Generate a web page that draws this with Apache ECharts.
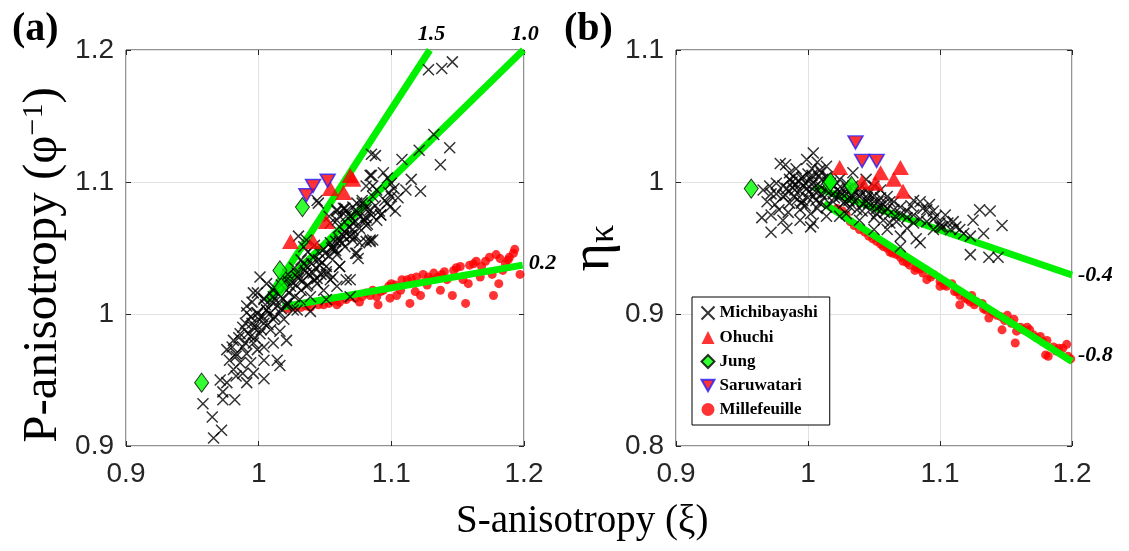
<!DOCTYPE html>
<html>
<head>
<meta charset="utf-8">
<script src="https://cdn.jsdelivr.net/npm/echarts@6/dist/echarts.min.js"></script>
<style>
html,body{margin:0;padding:0;background:#fff;}
#chart{width:1129px;height:551px;}
</style>
</head>
<body>
<div id="chart"></div>
<script>
// Axis ranges (tick step 0.1)
const xRange = [0.9, 1.2];
const pRange = [0.9, 1.2];      // panel (a): P-anisotropy
const etaRange = [0.8, 1.1];    // panel (b): eta_kappa
const tickStep = 0.1;

// Panel (a): S-anisotropy vs P-anisotropy
const michiA = [
  [1.128,1.185],[1.138,1.186],[1.146,1.191],[1.132,1.136],[1.121,1.124],[1.144,1.126],[1.137,1.113],
  [1.088,1.120],[1.108,1.117],[1.085,1.105],[1.094,1.107],[1.097,1.103],[1.115,1.102],[1.111,1.094],
  [1.122,1.093],[1.100,1.099],[1.081,1.097],[1.089,1.094],[1.086,1.089],[1.078,1.084],[1.100,1.089],
  [1.099,1.081],[1.103,1.078],[1.092,1.075],[1.081,1.073],[1.084,1.079],[1.071,1.081],[1.069,1.074],
  [1.074,1.078],[1.065,1.080],[1.061,1.074],[1.059,1.071],[1.071,1.064],[1.081,1.055],[1.086,1.056],
  [1.073,1.059],[1.064,1.059],[1.058,1.055],[1.056,1.051],[1.065,1.051],
  [1.045,1.084],[1.059,1.078],[1.066,1.074],[1.074,1.076],[1.081,1.079],[1.092,1.075],[1.097,1.084],
  [1.054,1.069],[1.061,1.066],[1.071,1.069],[1.081,1.067],[1.089,1.071],[1.030,1.059],[1.034,1.051],
  [1.049,1.049],[1.054,1.054],[1.061,1.055],[1.069,1.059],[1.076,1.054],[1.084,1.055],[1.073,1.046],
  [1.075,1.042],[1.059,1.045],[1.041,1.043],[1.046,1.037],[1.036,1.036],[1.029,1.031],[1.051,1.032],
  [1.061,1.036],[1.054,1.026],[1.066,1.026],[1.069,1.013],[1.044,1.023],[1.036,1.021],[1.024,1.021],
  [1.001,1.028],[0.996,1.016],[1.004,1.011],[1.011,1.013],[0.991,1.006],[0.999,1.001],[1.006,1.003],
  [1.021,1.006],[1.031,1.011],[1.039,1.013],[1.049,1.018],[1.059,1.021],[1.051,1.011],[1.016,1.001],
  [1.026,1.003],[0.994,0.998],
  [1.006,1.023],[0.999,1.016],[0.995,1.009],[1.004,1.012],[1.011,1.018],[1.021,1.026],[1.029,1.028],
  [1.036,1.031],[1.044,1.027],[1.051,1.030],[1.056,1.028],[0.991,1.001],[0.999,1.000],[1.006,1.003],
  [1.014,1.006],[1.021,1.008],[1.029,1.003],[1.039,1.002],[0.990,0.993],[0.996,0.990],[1.004,0.993],
  [1.011,0.996],[1.019,0.996],[0.986,0.985],[0.994,0.983],[1.001,0.985],[1.009,0.988],[1.016,0.987],
  [1.021,0.980],[0.981,0.980],[0.988,0.975],[0.996,0.978],[1.004,0.975],[1.011,0.978],[0.976,0.973],
  [0.983,0.970],[0.991,0.970],[0.999,0.973],[1.014,0.965],[1.016,0.961],[1.004,0.965],[0.978,0.965],
  [0.986,0.963],[0.994,0.963],[0.981,0.958],[0.988,0.955],[0.996,0.955],[1.004,0.951],[0.971,0.950],
  [0.976,0.948],[0.983,0.953],[0.991,0.948],[0.973,0.941],[0.982,0.935],[0.973,0.935],[0.958,0.932],
  [0.965,0.922],[0.972,0.912],[0.966,0.906],
  [1.044,1.086],[1.053,1.074],[1.059,1.079],[1.064,1.080],[1.066,1.078],[1.069,1.074],[1.074,1.084],
  [1.078,1.086],[1.081,1.081],[1.085,1.121],[1.084,1.105],[1.086,1.097],[1.080,1.071],[1.084,1.056],
  [1.074,1.046],[1.069,1.026],[1.056,1.049],[1.046,1.046],[1.041,1.031],[1.036,1.056],[1.034,1.038],
  [1.051,1.036],[1.061,1.036],[1.071,1.056],[1.064,1.059],
  [0.985,0.982],[0.988,0.990],[0.992,0.985],[0.995,0.993],[0.998,0.990],[1.000,0.996],[1.003,0.998],
  [1.005,1.007],[1.008,1.000],[1.010,1.009],[1.013,1.010],[1.015,1.015],[1.018,1.012],[1.020,1.019],
  [1.023,1.016],[1.025,1.024],[1.028,1.022],[1.030,1.027],[1.033,1.025],[1.035,1.033],[1.038,1.030],
  [1.040,1.038],[1.043,1.035],[1.045,1.041],[1.048,1.039],[1.050,1.046],[1.053,1.044],[1.055,1.050],
  [1.058,1.048],[1.060,1.058],[1.063,1.054],[1.065,1.062],[1.068,1.066],[1.070,1.060],[1.073,1.070],
  [1.076,1.065],[1.079,1.072],[1.082,1.068],[1.085,1.075],[1.088,1.082],[1.091,1.078],[1.095,1.086],
  [1.098,1.092],[1.102,1.095],[1.105,1.088],[0.980,0.975],[0.983,0.968],[0.990,0.978],[0.997,0.982],
  [1.002,0.988],[1.007,0.992],[1.012,0.998],[1.017,1.004],[1.022,1.008],[1.027,1.013],[1.032,1.018],
  [1.037,1.022],[1.042,1.026],[1.047,1.030],[1.017,1.022],[1.012,1.020],[1.022,1.030],[1.027,1.035],
  [1.032,1.041],[1.037,1.047],[1.042,1.052]
];
const ohuchiA = [[1.024,1.055],[1.041,1.055],[1.051,1.070],[1.054,1.095],[1.064,1.092],[1.069,1.105],[1.071,1.102]];
const jungA = [[0.957,0.948],[1.016,1.033],[1.017,1.020],[1.033,1.081]];
const saruA = [[1.036,1.090],[1.041,1.097],[1.052,1.101]];
const milleA = [
  [1.022,1.004],[1.028,1.005],[1.032,1.005],[1.036,1.006],[1.039,1.005],[1.045,1.007],[1.049,1.007],
  [1.053,1.008],[1.056,1.010],[1.059,1.007],[1.061,1.009],[1.066,1.011],[1.069,1.013],[1.073,1.012],
  [1.076,1.009],[1.078,1.013],[1.081,1.016],[1.084,1.014],[1.086,1.018],[1.089,1.013],[1.090,1.007],
  [1.092,1.017],[1.094,1.018],[1.098,1.021],[1.099,1.012],[1.100,1.023],[1.103,1.022],[1.104,1.014],
  [1.107,1.018],[1.108,1.026],[1.112,1.026],[1.114,1.008],[1.115,1.027],[1.118,1.017],[1.119,1.028],
  [1.122,1.014],[1.124,1.030],[1.127,1.022],[1.128,1.028],[1.130,1.026],[1.132,1.031],[1.135,1.028],
  [1.137,1.018],[1.138,1.030],[1.140,1.032],[1.142,1.026],[1.146,1.014],[1.147,1.033],[1.149,1.035],
  [1.152,1.036],[1.154,1.026],[1.156,1.008],[1.158,1.023],[1.159,1.037],[1.162,1.038],[1.164,1.040],
  [1.167,1.028],[1.168,1.036],[1.171,1.040],[1.174,1.043],[1.176,1.030],[1.177,1.014],[1.179,1.045],
  [1.181,1.023],[1.182,1.042],[1.184,1.033],[1.186,1.038],[1.188,1.041],[1.189,1.043],[1.192,1.046],
  [1.193,1.049],[1.197,1.030]
];
const line15 = [[1.006,1.010],[1.129,1.200]];
const line10 = [[1.006,1.010],[1.1995,1.200]];
const line02 = [[1.018,1.0055],[1.199,1.037]];

// Panel (b): S-anisotropy vs eta_kappa
const michiB = [
  [0.966,0.994],[0.972,0.991],[0.969,0.985],[0.965,0.973],[0.972,0.975],[0.972,0.962],[0.981,0.971],
  [0.984,0.965],[0.978,0.979],[0.975,0.983],
  [0.979,1.014],[0.983,1.013],[0.986,1.007],[0.991,1.010],[0.999,1.017],[1.004,1.022],[1.007,1.015],
  [1.003,1.010],[0.996,1.004],[1.002,1.002],[1.009,1.009],[1.014,1.012],
  [0.976,0.999],[0.981,0.997],[0.986,1.002],[0.991,0.998],[0.994,0.993],[0.999,0.995],[1.004,0.999],
  [1.009,0.997],[1.014,0.993],[0.989,0.989],[0.996,0.986],[1.004,0.989],[1.009,0.984],[0.981,0.989],
  [0.986,0.984],[0.994,0.979],[1.002,0.976],[1.007,0.980],[1.014,0.981],[1.019,0.985],[1.024,0.989],
  [1.029,0.991],[1.034,0.988],[1.039,0.989],[1.044,0.986],[1.050,0.990],[1.055,0.988],[1.060,0.989],
  [1.017,0.999],[1.022,0.994],[1.027,0.984],[1.032,0.981],[1.037,0.979],[1.042,0.983],[1.047,0.979],
  [1.052,0.980],[1.057,0.983],[1.062,0.985],[1.024,1.002],[1.029,0.999],[1.034,0.997],[1.039,0.995],
  [1.044,0.994],[1.050,0.997],[1.055,0.994],[1.034,1.007],[1.044,1.002],[1.004,0.969],[0.994,0.971],
  [1.024,0.974],[1.029,0.976],[1.039,0.971],[1.050,0.973],[1.057,0.971],[1.062,0.969],[1.002,0.966],
  [1.014,0.974],[0.976,0.991],[0.971,0.997],
  [0.984,0.995],[0.989,1.004],[0.993,1.001],[0.998,0.999],[1.001,0.993],[1.006,0.992],[1.011,1.002],
  [0.988,0.996],[0.996,0.997],[1.003,1.005],[1.008,1.004],[1.012,0.988],[1.019,0.991],[1.026,0.995],
  [1.031,0.986],[1.036,0.992],[1.041,0.978],[1.046,0.991],[1.053,0.985],[1.058,0.977],[0.998,0.982],
  [1.006,0.986],[0.992,0.987],[0.985,0.977],
  [1.065,0.979],[1.070,0.981],[1.075,0.978],[1.080,0.986],[1.085,0.985],[1.087,0.980],[1.092,0.983],
  [1.095,0.978],[1.097,0.974],[1.100,0.969],[1.102,0.966],[1.106,0.969],[1.110,0.970],[1.115,0.964],
  [1.123,0.959],[1.125,0.971],[1.130,0.979],[1.138,0.978],[1.147,0.967],[1.133,0.961],[1.123,0.945],
  [1.137,0.943],[1.144,0.943],[1.108,0.964],[1.095,0.964],[1.082,0.957],[1.085,0.954],[1.070,0.951],
  [1.075,0.965],[1.067,0.970],[1.080,0.969],[1.060,0.964],[1.050,0.964],[1.070,0.959],
  [0.990,0.994],[0.995,1.003],[1.000,1.006],[1.005,0.996],[1.010,0.991],[1.015,1.000],[1.020,0.997],
  [1.025,0.992],[1.030,0.995],[1.035,0.985],[1.040,0.992],[1.045,0.988],[1.050,0.985],[1.055,0.982],
  [1.060,0.980],[1.065,0.985],[1.070,0.976],[1.075,0.973],[1.080,0.975],[1.085,0.972],[1.090,0.970],
  [1.095,0.972],[1.100,0.966],[1.000,0.988],[0.995,0.984],[1.010,1.007],[1.015,1.004],[0.988,1.000],
  [0.983,0.990],[1.020,0.988],[1.028,0.985],[1.033,0.990],[1.046,0.984],[1.052,0.976],[1.066,0.974],
  [1.078,0.982],[1.090,0.979],[1.104,0.975],[1.112,0.966],[1.118,0.961]
];
const ohuchiB = [[1.024,1.011],[1.041,1.000],[1.051,0.999],[1.055,1.007],[1.065,1.002],[1.070,1.011],[1.072,0.993]];
const jungB = [[0.957,0.995],[1.016,0.999],[1.017,1.000],[1.033,0.997]];
const saruB = [[1.036,1.030],[1.041,1.016],[1.052,1.016]];
const milleB = [
  [1.022,0.980],[1.026,0.978],[1.029,0.975],[1.032,0.970],[1.035,0.967],[1.039,0.964],[1.046,0.959],
  [1.052,0.955],[1.057,0.951],[1.062,0.947],[1.067,0.945],[1.070,0.943],[1.072,0.940],[1.077,0.937],
  [1.081,0.933],[1.082,0.935],[1.087,0.931],[1.090,0.926],[1.095,0.930],[1.100,0.925],[1.100,0.921],
  [1.105,0.921],[1.109,0.923],[1.113,0.917],[1.115,0.914],[1.115,0.907],[1.119,0.912],[1.123,0.909],
  [1.124,0.914],[1.128,0.909],[1.132,0.908],[1.135,0.903],[1.137,0.897],[1.140,0.901],[1.146,0.898],
  [1.147,0.888],[1.151,0.899],[1.156,0.896],[1.157,0.878],[1.158,0.887],[1.161,0.890],[1.166,0.890],
  [1.168,0.888],[1.171,0.884],[1.176,0.883],[1.180,0.869],[1.181,0.880],[1.182,0.868],[1.186,0.875],
  [1.190,0.874],[1.193,0.874],[1.196,0.877],[1.197,0.868],
  [1.043,0.962],[1.049,0.957],[1.055,0.953],[1.060,0.950],[1.064,0.946],[1.075,0.939],[1.085,0.934],
  [1.093,0.928],[1.103,0.922],[1.111,0.917],[1.121,0.911],[1.126,0.907],[1.133,0.904],[1.143,0.899],
  [1.149,0.895],[1.154,0.893],[1.163,0.888],[1.173,0.882],[1.178,0.879],[1.188,0.872],[1.199,0.866]
];
const lineM04 = [[1.005,0.996],[1.2,0.9295]];
const lineM08 = [[1.012,0.9836],[1.2,0.864]];

const seriesNames = ['Michibayashi', 'Ohuchi', 'Jung', 'Saruwatari', 'Millefeuille'];
const lineTags = ['1.5', '1.0', '0.2', '-0.4', '-0.8'];

const GREEN = '#00f000';
const tickFont = "'Liberation Sans Narrow','Liberation Sans',sans-serif";
const serif = "'Liberation Serif','Times New Roman',serif";

const crossPath = 'path://M0,0L10,10M10,0L0,10';
const downTriPath = 'path://M0,0L10,0L5,8.7Z';

function fmt(v) { return String(+v.toFixed(2)); }

function mainX(gi) {
  return {
    type: 'value', gridIndex: gi, min: xRange[0], max: xRange[1], interval: tickStep,
    axisLine: { show: false },
    axisTick: { show: true, inside: true, length: 5, lineStyle: { color: '#262626' } },
    axisLabel: { fontFamily: tickFont, fontSize: 28, color: '#262626', margin: 14, formatter: fmt },
    splitLine: { show: true, lineStyle: { color: '#e2e2e2', width: 1 } }
  };
}
function topX(gi) {
  return {
    type: 'value', gridIndex: gi, position: 'top', min: xRange[0], max: xRange[1], interval: tickStep,
    axisLine: { show: false },
    axisTick: { show: true, inside: true, length: 5, lineStyle: { color: '#262626' } },
    axisLabel: { show: false }, splitLine: { show: false }
  };
}
function mainY(gi, range, name, size, rich, gap, pad) {
  return {
    type: 'value', gridIndex: gi, min: range[0], max: range[1], interval: tickStep,
    axisLine: { show: false },
    axisTick: { show: true, inside: true, length: 5, lineStyle: { color: '#262626' } },
    axisLabel: { fontFamily: tickFont, fontSize: 28, color: '#262626', margin: 12, formatter: fmt },
    splitLine: { show: true, lineStyle: { color: '#e2e2e2', width: 1 } },
    name: name, nameLocation: 'middle', nameRotate: 90, nameGap: gap,
    nameTextStyle: { fontFamily: serif, fontSize: size, color: '#000', rich: rich, padding: pad }
  };
}
function rightY(gi, range) {
  return {
    type: 'value', gridIndex: gi, position: 'right', min: range[0], max: range[1], interval: tickStep,
    axisLine: { show: false },
    axisTick: { show: true, inside: true, length: 5, lineStyle: { color: '#262626' } },
    axisLabel: { show: false }, splitLine: { show: false }
  };
}

function crosses(data, ax) {
  return {
    name: seriesNames[0], type: 'scatter', data: data, xAxisIndex: ax, yAxisIndex: ax, z: 4,
    symbol: crossPath, symbolSize: 11,
    itemStyle: { color: 'none', borderColor: '#000', borderWidth: 1.5 }
  };
}
function ohuchi(data, ax) {
  return {
    name: seriesNames[1], type: 'scatter', data: data, xAxisIndex: ax, yAxisIndex: ax, z: 5,
    symbol: 'triangle', symbolSize: [17, 15], itemStyle: { color: '#ff0000' }
  };
}
function jung(data, ax) {
  return {
    name: seriesNames[2], type: 'scatter', data: data, xAxisIndex: ax, yAxisIndex: ax, z: 6,
    symbol: 'diamond', symbolSize: [14, 19],
    itemStyle: { color: '#00ff00', borderColor: '#000', borderWidth: 1 }
  };
}
function saru(data, ax) {
  return {
    name: seriesNames[3], type: 'scatter', data: data, xAxisIndex: ax, yAxisIndex: ax, z: 7,
    symbol: downTriPath, symbolSize: [15, 13],
    itemStyle: { color: '#ff0000', borderColor: '#2020ff', borderWidth: 1.5 }
  };
}
function mille(data, ax) {
  return {
    name: seriesNames[4], type: 'scatter', data: data, xAxisIndex: ax, yAxisIndex: ax, z: 2,
    symbol: 'circle', symbolSize: 9, itemStyle: { color: '#ff0000' }
  };
}
function fitLine(data, ax, tag, offset) {
  return {
    type: 'line', data: data, xAxisIndex: ax, yAxisIndex: ax, z: 3,
    showSymbol: false, symbol: 'none', silent: true,
    lineStyle: { color: GREEN, width: 7, cap: 'butt' },
    endLabel: {
      show: true, formatter: tag, offset: offset, distance: 6,
      fontFamily: serif, fontStyle: 'italic', fontWeight: 'bold', fontSize: 22, color: '#000'
    }
  };
}

const chart = echarts.init(document.getElementById('chart'), null, { renderer: 'canvas' });

chart.setOption({
  backgroundColor: '#fff',
  animation: false,
  grid: [
    { left: 126, top: 50, width: 398, height: 396, show: true, borderColor: '#262626', borderWidth: 1, backgroundColor: '#fff' },
    { left: 676, top: 50, width: 396, height: 396, show: true, borderColor: '#262626', borderWidth: 1, backgroundColor: '#fff' }
  ],
  xAxis: [mainX(0), topX(0), mainX(1), topX(1)],
  yAxis: [
    mainY(0, pRange, 'P-anisotropy (φ{sup|−1})', 49,
      { sup: { fontFamily: serif, fontSize: 30, verticalAlign: 'top', color: '#000' } }, 58, [0, 34, 0, 0]),
    rightY(0, pRange),
    mainY(1, etaRange, 'η{sub|κ}', 54,
      { sub: { fontFamily: serif, fontSize: 36, verticalAlign: 'bottom', color: '#000' } }, 12, [0, 0, 0, 0]),
    rightY(1, etaRange)
  ],
  legend: {
    data: seriesNames,
    orient: 'vertical', left: 692, top: 297,
    backgroundColor: '#fff', borderColor: '#000', borderWidth: 1,
    padding: [7, 12, 7, 7], itemGap: 7, itemWidth: 13, itemHeight: 13,
    textStyle: { fontFamily: serif, fontWeight: 'bold', fontSize: 17, color: '#000' },
    selectedMode: false
  },
  graphic: [
    { type: 'text', left: 12, top: 10, style: { text: '(a)', font: 'bold 40px ' + serif, fill: '#000' } },
    { type: 'text', left: 564, top: 10, style: { text: '(b)', font: 'bold 40px ' + serif, fill: '#000' } },
    { type: 'text', left: 456, top: 502, style: { text: 'S-anisotropy (ξ)', font: '39px ' + serif, fill: '#000' } }
  ],
  series: [
    mille(milleA, 0),
    fitLine(line15, 0, lineTags[0], [-18, -16]),
    fitLine(line10, 0, lineTags[1], [-18, -16]),
    fitLine(line02, 0, lineTags[2], [0, -2]),
    crosses(michiA, 0),
    ohuchi(ohuchiA, 0),
    jung(jungA, 0),
    saru(saruA, 0),

    mille(milleB, 2),
    fitLine(lineM04, 2, lineTags[3], [0, 0]),
    fitLine(lineM08, 2, lineTags[4], [0, -6]),
    crosses(michiB, 2),
    ohuchi(ohuchiB, 2),
    jung(jungB, 2),
    saru(saruB, 2)
  ]
});
</script>
</body>
</html>
